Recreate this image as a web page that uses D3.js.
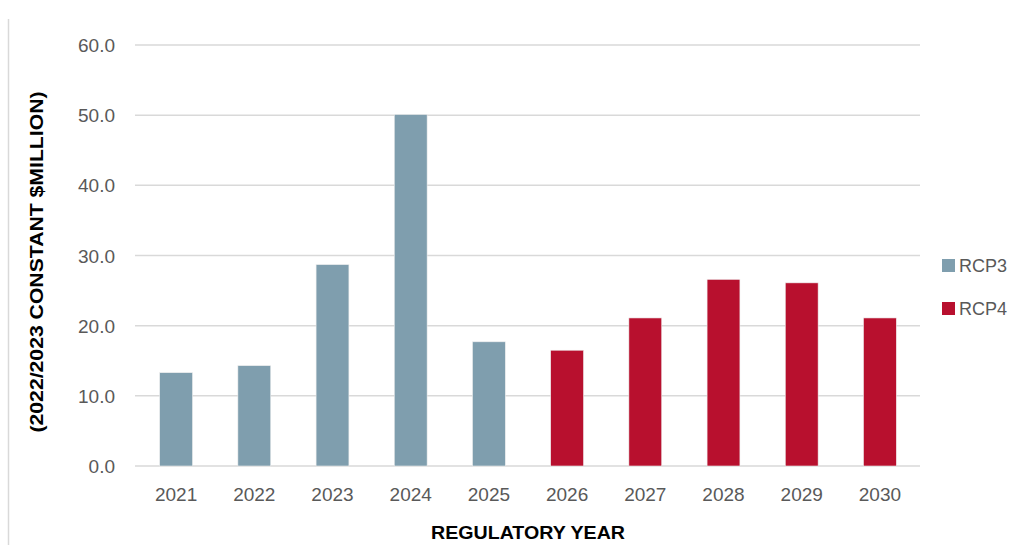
<!DOCTYPE html>
<html><head><meta charset="utf-8">
<script src="https://cdn.jsdelivr.net/npm/d3@7"></script>
<style>body{margin:0;background:#fff}svg{display:block}</style>
</head><body>
<svg id="c" width="1009" height="545"></svg>
<script>
const years = ["2021","2022","2023","2024","2025","2026","2027","2028","2029","2030"];
const series = ["RCP3","RCP3","RCP3","RCP3","RCP3","RCP4","RCP4","RCP4","RCP4","RCP4"];
const values = [13.3, 14.3, 28.7, 50.1, 17.7, 16.5, 21.1, 26.6, 26.1, 21.1];
const yTicks = [0, 10, 20, 30, 40, 50, 60];
const legendNames = ["RCP3", "RCP4"];
const legendColors = ["#7f9eae", "#b8102e"];

const svg = d3.select("#c");
const font = "'Liberation Sans', Arial, sans-serif";
const x = d3.scaleBand().domain(years).range([137, 919]).paddingInner(0.58).paddingOuter(0.29);
const y = d3.scaleLinear().domain([0, 60]).range([466, 45]);
const color = d3.scaleOrdinal().domain(legendNames).range(legendColors);

// left border
svg.append("line").attr("x1", 8.5).attr("x2", 8.5).attr("y1", 19).attr("y2", 545)
  .attr("stroke", "#d9d9d9").attr("stroke-width", 1.5);

// gridlines
svg.append("g").selectAll("line").data(yTicks).join("line")
  .attr("x1", 135).attr("x2", 920)
  .attr("y1", d => y(d)).attr("y2", d => y(d))
  .attr("stroke", "#d9d9d9").attr("stroke-width", 1.5);

// y axis labels
const yAxis = d3.axisLeft(y).tickValues(yTicks).tickFormat(d3.format(".1f")).tickSize(0).tickPadding(0);
const gy = svg.append("g").attr("transform", "translate(115,0)").call(yAxis);
gy.select(".domain").remove();
gy.selectAll("text").attr("font-family", font).attr("font-size", 19).attr("fill", "#595959").attr("dy", "0.35em");

// bars
svg.append("g").selectAll("rect").data(years).join("rect")
  .attr("x", (d) => x(d))
  .attr("width", x.bandwidth())
  .attr("y", (d, i) => y(values[i]))
  .attr("height", (d, i) => y(0) - y(values[i]))
  .attr("fill", (d, i) => color(series[i]))
  .attr("stroke", "#eeeeee").attr("stroke-width", 0.6);

// x axis labels
const xAxis = d3.axisBottom(x).tickSize(0).tickPadding(0);
const gx = svg.append("g").attr("transform", "translate(0,487)").call(xAxis);
gx.select(".domain").remove();
gx.selectAll("text").attr("font-family", font).attr("font-size", 19).attr("fill", "#595959").attr("dy", "0.71em");

// axis titles
svg.append("text").attr("x", 528).attr("y", 539).attr("text-anchor", "middle")
  .attr("font-family", font).attr("font-weight", "bold").attr("font-size", 18).attr("fill", "#000")
  .attr("textLength", 194).attr("lengthAdjust", "spacingAndGlyphs")
  .text("REGULATORY  YEAR");

svg.append("text").attr("transform", "translate(43,262) rotate(-90)").attr("text-anchor", "middle")
  .attr("font-family", font).attr("font-weight", "bold").attr("font-size", 19).attr("fill", "#000")
  .attr("textLength", 341).attr("lengthAdjust", "spacingAndGlyphs")
  .text("(2022/2023 CONSTANT $MILLION)");

// legend
const lg = svg.append("g").selectAll("g").data(legendNames).join("g")
  .attr("transform", (d, i) => `translate(942,${259 + i * 43})`);
lg.append("rect").attr("width", 13).attr("height", 13).attr("fill", d => color(d));
lg.append("text").attr("x", 17).attr("y", 6.5).attr("dy", "0.35em")
  .attr("font-family", font).attr("font-size", 18).attr("fill", "#595959").text(d => d);
</script>
</body></html>
